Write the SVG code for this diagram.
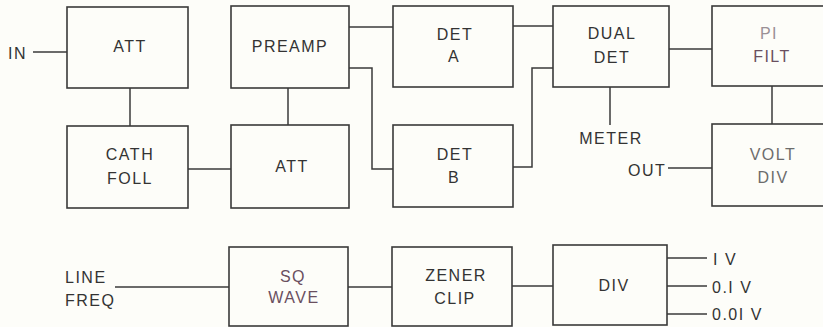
<svg xmlns="http://www.w3.org/2000/svg" width="823" height="327" viewBox="0 0 823 327">
<style>
.bg{fill:#fdfdf9}
.box{fill:none;stroke:#3a3a3a;stroke-width:1.6}
.wire{fill:none;stroke:#3a3a3a;stroke-width:1.5}
text{font-family:"Liberation Sans",Arial,sans-serif;font-size:16px;letter-spacing:1.5px;fill:#333}
.c{text-anchor:middle}
.pale{fill:#9a9096}
.grey{fill:#6c6c6c}
.mauve{fill:#6a4f5f}
</style>
<rect class="bg" x="0" y="0" width="823" height="327"/>

<g id="connectors">
<path class="wire" d="M33 52H67"/>
<path class="wire" d="M130 88V126"/>
<path class="wire" d="M188 169H231"/>
<path class="wire" d="M288 88V125"/>
<path class="wire" d="M349 27H393"/>
<path class="wire" d="M349 68H372V169H393"/>
<path class="wire" d="M513 26H553"/>
<path class="wire" d="M513 167H532V68H553"/>
<path class="wire" d="M669 49H712"/>
<path class="wire" d="M610 87V125"/>
<path class="wire" d="M772 86V124"/>
<path class="wire" d="M668 168H712"/>
<path class="wire" d="M115 287H229"/>
<path class="wire" d="M348 287H392"/>
<path class="wire" d="M512 286H553"/>
<path class="wire" d="M667 258H707"/>
<path class="wire" d="M667 286H707"/>
<path class="wire" d="M667 314H707"/>
</g>

<g id="in"><text x="8" y="59">IN</text></g>
<g id="att1"><rect class="box" x="67" y="7" width="121" height="81"/><text class="c" x="130" y="52">ATT</text></g>
<g id="cathfoll"><rect class="box" x="67" y="126" width="121" height="82"/><text class="c" x="130" y="160">CATH</text><text class="c" x="130" y="184">FOLL</text></g>
<g id="preamp"><rect class="box" x="231" y="6" width="118" height="82"/><text class="c" x="290" y="52">PREAMP</text></g>
<g id="att2"><rect class="box" x="231" y="125" width="118" height="83"/><text class="c" x="292" y="172">ATT</text></g>
<g id="deta"><rect class="box" x="393" y="6" width="120" height="81"/><text class="c" x="455" y="40">DET</text><text class="c" x="454" y="62">A</text></g>
<g id="detb"><rect class="box" x="393" y="125" width="120" height="82"/><text class="c" x="455" y="160">DET</text><text class="c" x="454" y="183">B</text></g>
<g id="dualdet"><rect class="box" x="553" y="6" width="116" height="81"/><text class="c" x="612" y="39">DUAL</text><text class="c" x="612" y="63">DET</text></g>
<g id="meter"><text class="c" x="611" y="144">METER</text></g>
<g id="pifilt"><rect class="box" x="712" y="6" width="122" height="80"/><text class="c pale" x="769" y="39">PI</text><text class="c mauve" x="772" y="62">FILT</text></g>
<g id="out"><text x="628" y="176">OUT</text></g>
<g id="voltdiv"><rect class="box" x="712" y="124" width="122" height="82"/><text class="c grey" x="773" y="160">VOLT</text><text class="c grey" x="773" y="183">DIV</text></g>
<g id="linefreq"><text x="65" y="283">LINE</text><text x="65" y="306">FREQ</text></g>
<g id="sqwave"><rect class="box" x="229" y="247" width="119" height="79"/><text class="c mauve" x="293" y="282">SQ</text><text class="c mauve" x="294" y="303">WAVE</text></g>
<g id="zenerclip"><rect class="box" x="392" y="247" width="120" height="79"/><text class="c" x="456" y="281">ZENER</text><text class="c" x="455" y="304">CLIP</text></g>
<g id="div"><rect class="box" x="553" y="245" width="114" height="80"/><text class="c" x="614" y="291">DIV</text></g>
<g id="outputs"><text x="713" y="265">I V</text><text x="712" y="293">0.I V</text><text x="712" y="320">0.0I V</text></g>
</svg>
